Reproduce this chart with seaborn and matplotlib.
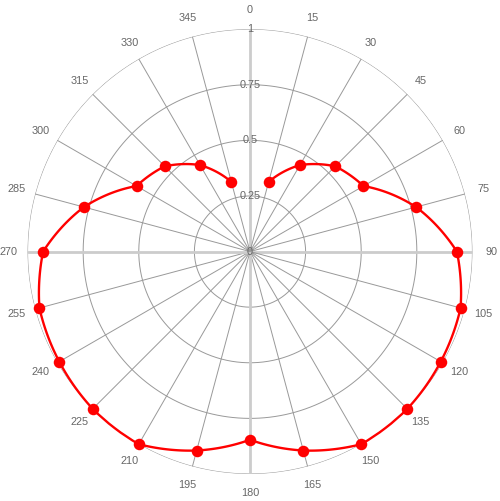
import numpy as np
import pandas as pd
import matplotlib
matplotlib.use("Agg")
import matplotlib.pyplot as plt
import seaborn as sns

# data (degrees, clockwise from top)
angles = [15, 30, 45, 60, 75, 90, 105, 120, 135, 150, 165, 180,
          195, 210, 225, 240, 255, 270, 285, 300, 315, 330, 345]
values = [0.324, 0.449, 0.542, 0.589, 0.773, 0.93, 0.98, 0.99, 1.0, 1.0, 0.926, 0.846,
          0.926, 1.0, 1.0, 0.99, 0.98, 0.93, 0.773, 0.589, 0.542, 0.449, 0.324]
angle_ticks = list(range(0, 360, 15))
radial_ticks = [0, 0.25, 0.5, 0.75, 1]
radial_labels = ["0", "0.25", "0.5", "0.75", "1"]

df = pd.DataFrame({"theta": np.deg2rad(angles), "r": values})

sns.set_style("white")
plt.rcParams['font.family'] = ['Liberation Sans', 'DejaVu Sans']

fig = plt.figure(figsize=(5, 5.01), dpi=100)
ax = fig.add_axes([0.055, 0.0539, 0.89, 0.888], projection='polar')
ax.set_theta_zero_location('N')
ax.set_theta_direction(-1)
ax.set_ylim(0, 1)

# grid
ax.grid(False)
ax.spines['polar'].set_visible(False)
circ = np.linspace(0, 2 * np.pi, 400)
for rt in radial_ticks[1:]:
    ax.plot(circ, np.full_like(circ, rt), color='#999999', lw=0.7, zorder=1)
for a in angle_ticks:
    t = np.deg2rad(a)
    if a % 90 == 0:
        ax.plot([t, t], [0, 1], color='#cccccc', lw=2, zorder=1)
    else:
        ax.plot([t, t], [0, 1], color='#999999', lw=0.7, zorder=1)

# angle labels
for a in angle_ticks:
    ax.text(np.deg2rad(a), 1.085, str(a), ha='center', va='center',
            fontsize=7.8, color='#666666')
# radial labels along 0 deg
for rt, lab in zip(radial_ticks, radial_labels):
    ax.text(0, rt, lab, ha='center', va='center', fontsize=7.8, color='#666666', zorder=3)

sns.lineplot(data=df, x="theta", y="r", ax=ax, color='#ff0000', lw=1.7,
             sort=False, marker='o', markersize=8.3, markeredgewidth=0,
             zorder=4, legend=False)
line = ax.lines[-1]
line.set_clip_on(False)
# draw segments as smooth arcs in polar space
line.get_path()._interpolation_steps = 30

ax.set_xlabel("")
ax.set_ylabel("")
ax.set_xticks([])
ax.set_yticks([])
ax.set_ylim(0, 1)

fig.savefig("out.png", dpi=100)
